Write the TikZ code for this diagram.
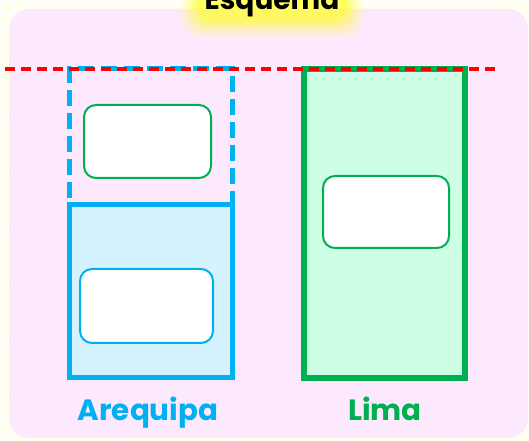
\documentclass[tikz,border=0pt]{standalone}
\usepackage{fontspec}
\setmainfont{Poppins}
\usetikzlibrary{positioning}
\definecolor{GridCream}{HTML}{FEFFEC}
\definecolor{PanelPink}{HTML}{FDE9FE}
\definecolor{ArqBlue}{HTML}{00B0F0}
\definecolor{ArqFill}{HTML}{D5F3FF}
\definecolor{LimGreen}{HTML}{00B050}
\definecolor{LimFill}{HTML}{CCFFE4}
\definecolor{GlowYellow}{HTML}{FFFF33}
\definecolor{CutRed}{HTML}{FF0000}

\tikzset{
  zonebox/.style={rectangle,inner sep=0pt,outer sep=0pt,line width=3.75pt},
  cardbox/.style={rectangle,rounded corners=9pt,fill=white,inner sep=0pt,outer sep=0pt,line width=1.5pt},
  citylabel/.style={font=\fontsize{22}{25}\selectfont\bfseries,anchor=base}
}

\begin{document}
\begin{tikzpicture}[x=0.75pt,y=-0.75pt]
  \useasboundingbox (0,0) rectangle (529,441);
  % background and panel
  \fill[GridCream] (0,0) rectangle (529,441);
  \draw[white,line width=0.5pt,step=5.25pt] (0,0) grid (529,441);
  \fill[PanelPink,rounded corners=15pt] (9,9) rectangle (528,438);
  % title with glow
  \foreach \g/\o in {18/0.10,14/0.15,10/0.22,6/0.3,2/0.45}
    \fill[GlowYellow,opacity=\o,rounded corners=14pt] (198-\g,-10) rectangle (346+\g,20+\g);
  \node[font=\fontsize{21}{24}\selectfont\bfseries,anchor=base] (title) at (272,10) {Esquema};
  % Arequipa
  \node[zonebox,draw=ArqBlue,dash pattern=on 12pt off 5.25pt,minimum width=122.25pt,minimum height=102pt] (arqtop) at (150.5,137) {};
  \node[zonebox,draw=ArqBlue,fill=ArqFill,minimum width=122.25pt,minimum height=129.75pt] (arqbase) at (150.5,291.5) {};
  \node[cardbox,draw=LimGreen,minimum width=95.25pt,minimum height=54.75pt] (arqcardtop) at (147.5,141.5) {};
  \node[cardbox,draw=ArqBlue,minimum width=99.75pt,minimum height=55.5pt] (arqcardbase) at (146.5,306) {};
  \node[citylabel,text=ArqBlue] (arqlabel) at (148,421) {Arequipa};
  % Lima
  \node[zonebox,draw=LimGreen,fill=LimFill,line width=4pt,minimum width=120.75pt,minimum height=231.75pt] (lima) at (384.5,223.5) {};
  \node[cardbox,draw=LimGreen,minimum width=94.5pt,minimum height=54pt] (limacard) at (386,212) {};
  \node[citylabel,text=LimGreen] (limalabel) at (385,421) {Lima};
  % cut line
  \coordinate (cutL) at (5,69);
  \coordinate (cutR) at (497,69);
  \draw[CutRed,line width=3pt,dash pattern=on 7.5pt off 4.5pt] (cutL) -- (cutR);
\end{tikzpicture}
\end{document}
